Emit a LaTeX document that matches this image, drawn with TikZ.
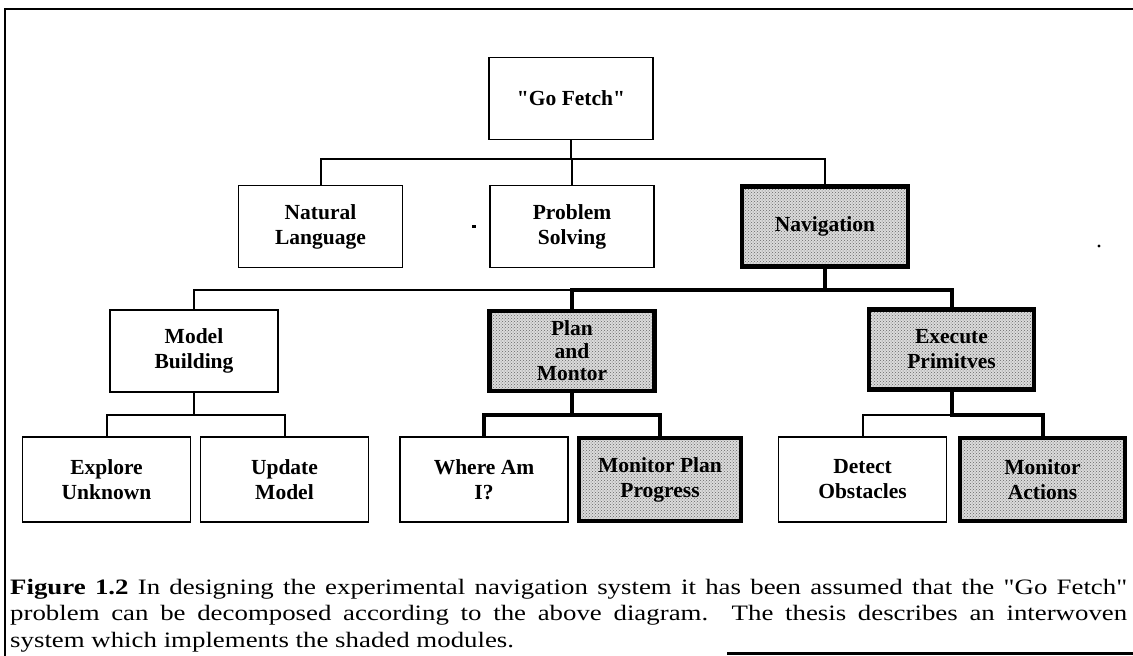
\documentclass[tikz,border=0pt]{standalone}
\usepackage{fontspec}
\setmainfont{Liberation Serif}[Ligatures=TeXOff]
\newfontfamily\capfont{Liberation Serif}[Ligatures=TeXOff, FakeStretch=1.22]
\usetikzlibrary{patterns}

\tikzset{
  module/.style={draw, line width=1.8pt, inner sep=0pt, align=center,
    minimum width=168pt, minimum height=82pt,
    font=\bfseries\fontsize{21.5}{25}\selectfont},
  shadedmodule/.style={module, line width=4.2pt,
    preaction={fill=black!14}, pattern=crosshatch dots, pattern color=black!60},
  wire/.style={line width=2pt, line join=miter, line cap=rect},
  heavywire/.style={line width=4pt, line join=miter, line cap=rect},
  captionline/.style={anchor=base west, inner sep=0pt, font=\capfont\fontsize{22}{26}\selectfont}
}

\begin{document}
\begin{tikzpicture}[x=1pt, y=-1pt]
  \useasboundingbox (0,0) rectangle (1133,656);

  % frame around figure and caption
  \draw[line width=2.2pt] (1133,9) -- (5,9) -- (5,656);
  \draw[line width=2.4pt] (727,653.5) -- (1133,653.5);

  % bus levels
  \coordinate (b1) at (0,159);
  \coordinate (b2) at (0,290);
  \coordinate (b3) at (0,415);

  % level 1
  \node[module, minimum width=164pt] (go) at (571,98.5) {"Go Fetch"};

  % level 2
  \node[module, minimum width=164pt, minimum height=82pt] (nl) at (320.5,226.5) {Natural\\Language};
  \node[module, minimum width=164pt, minimum height=82pt] (ps) at (572,226.5) {Problem\\Solving};
  \node[shadedmodule, minimum width=166pt, minimum height=80pt] (nav) at (825,226.5) {Navigation};

  % level 3
  \node[module] (mb) at (194,351) {Model\\Building};
  \node[shadedmodule, minimum width=165pt, minimum height=80pt,
        font=\bfseries\fontsize{21.5}{22.5}\selectfont] (pm) at (572,351) {Plan\\and\\Montor};
  \node[shadedmodule, minimum width=165pt, minimum height=80pt] (ep) at (951.5,349.5) {Execute\\Primitves};

  % level 4
  \node[module, minimum height=85pt] (eu) at (106.5,479.5) {Explore\\Unknown};
  \node[module, minimum height=85pt] (um) at (284.5,479.5) {Update\\Model};
  \node[module, minimum height=85pt] (wa) at (484,479.5) {Where Am\\I?};
  \node[shadedmodule, minimum width=162pt, minimum height=83pt] (mp) at (660,479.5) {Monitor Plan\\Progress};
  \node[module, minimum height=85pt] (dt) at (862.5,479.5) {Detect\\Obstacles};
  \node[shadedmodule, minimum width=165pt, minimum height=83pt] (ma) at (1042.5,479.5) {Monitor\\Actions};

  % connectors: Go Fetch
  \draw[wire] (go.south) -- (go.south |- b1);
  \draw[wire] (nl.north) -- (nl.north |- b1) -- (nav.north |- b1) -- (nav.north);
  \draw[wire] (ps.north) -- (ps.north |- b1);

  % connectors: Navigation
  \draw[wire] (mb.north) -- (mb.north |- b2) -- (pm.north |- b2);
  \draw[heavywire] (nav.south) -- (nav.south |- b2);
  \draw[heavywire] (pm.north) -- (pm.north |- b2) -- (ep.north |- b2) -- (ep.north);

  % connectors: Model Building
  \draw[wire] (mb.south) -- (mb.south |- b3);
  \draw[wire] (eu.north) -- (eu.north |- b3) -- (um.north |- b3) -- (um.north);

  % connectors: Plan and Montor
  \draw[heavywire] (pm.south) -- (pm.south |- b3);
  \draw[heavywire] (wa.north) -- (wa.north |- b3) -- (mp.north |- b3) -- (mp.north);

  % connectors: Execute Primitves
  \draw[wire] (dt.north) -- (dt.north |- b3) -- (ep.south |- b3);
  \draw[heavywire] (ep.south) -- (ep.south |- b3) -- (ma.north |- b3) -- (ma.north);

  % small specks
  \fill (471.5,225) rectangle (475.5,227.5);
  \fill (1099,246) circle (1.6);

  % caption
  \node[captionline] (cap1) at (10,594) {\makebox[1117pt][s]{\textbf{Figure 1.2} In designing the experimental navigation system it has been assumed that the "Go Fetch"}};
  \node[captionline] (cap2) at (10,620.5) {\makebox[1117pt][s]{problem can be decomposed according to the above diagram.\ \ The thesis describes an interwoven}};
  \node[captionline] (cap3) at (10,647) {system which implements the shaded modules.};
\end{tikzpicture}
\end{document}
